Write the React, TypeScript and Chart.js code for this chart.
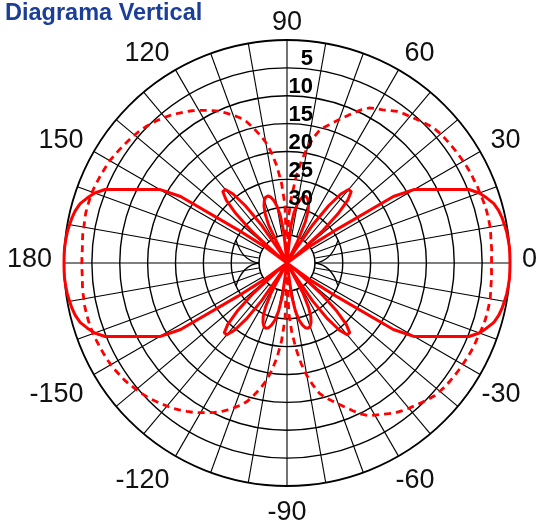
import { useEffect, useRef } from 'react';
import { Chart, registerables } from 'chart.js';

Chart.register(...registerables);

const TITLE = 'Diagrama Vertical';
const STEP = 2;
const ANGLES: number[] = [];
for (let a = 0; a < 360; a += STEP) ANGLES.push(a);
const ANGLE_LABELS = [0, 30, 60, 90, 120, 150, 180, -150, -120, -90, -60, -30];
const RING_LABELS = [5, 10, 15, 20, 25, 30];

// attenuation in dB (0 = outer ring, 40 = centre), one value per 2 degrees, angle 0..358 counter-clockwise from the right
const SOLID_DB = [
  0, 0, 0, 0.1, 0.2, 0.4, 0.6, 0.9, 1.4, 2.3,
  3.3, 4.8, 7.6, 9.9, 11.9, 13.6, 17.5, 29.2, 34.7, 40,
  37.6, 31.6, 27.3, 24.3, 22.8, 22.8, 24.3, 27.3, 31.6, 37.6,
  40, 40, 35.7, 31.9, 29.9, 28.7, 27.9, 27.6, 27.7, 28.3,
  29.2, 30.8, 33.3, 40, 40, 40, 40, 40, 34.4, 31.4,
  29.6, 28.5, 27.8, 27.5, 27.6, 28.1, 29.0, 30.4, 32.6, 40,
  40, 37.6, 31.6, 27.3, 24.3, 22.8, 22.8, 24.3, 27.3, 31.6,
  37.6, 40, 34.7, 29.2, 17.5, 13.6, 11.9, 9.9, 7.6, 4.8,
  3.3, 2.3, 1.4, 0.9, 0.6, 0.4, 0.2, 0.1, 0, 0,
  0,
  0, 0, 0.1, 0.2, 0.4, 0.6, 0.9, 1.4, 2.3,
  3.3, 4.8, 7.6, 9.9, 11.9, 13.6, 17.5, 29.2, 34.7, 40,
  37.6, 31.8, 27.6, 24.7, 23.2, 23.2, 24.7, 27.6, 31.8, 37.6,
  40, 34.0, 31.2, 29.5, 28.5, 27.9, 27.7, 27.9, 28.5, 29.5,
  31.2, 34.0, 40, 40, 40, 40, 40, 40, 40, 34.0,
  31.2, 29.5, 28.5, 27.9, 27.7, 27.9, 28.5, 29.5, 31.2, 34.0,
  40, 37.6, 31.8, 27.6, 24.7, 23.2, 23.2, 24.7, 27.6, 31.8,
  37.6, 40, 34.7, 29.2, 17.5, 13.6, 11.9, 9.9, 7.6, 4.8,
  3.3, 2.3, 1.4, 0.9, 0.6, 0.4, 0.2, 0.1, 0, 0,
];

const DASHED_DB = [
  3.3, 3.3, 3.2, 3.2, 3.1, 3.0, 3.0, 3.0, 3.0, 3.1,
  3.2, 3.2, 3.3, 3.3, 3.4, 3.5, 3.6, 3.7, 3.8, 3.9,
  4.0, 4.2, 4.5, 4.9, 5.3, 5.7, 6.0, 6.4, 7.0, 7.6,
  8.0, 8.5, 9.4, 10.5, 11.6, 12.6, 13.6, 14.5, 15.3, 17.0,
  19.0, 21.5, 24.5, 28.0, 31.5, 40, 29.5, 25.5, 22.5, 20.0,
  18.0, 16.5, 15.0, 13.6, 12.6, 11.8, 11.0, 10.2, 9.6, 9.0,
  8.4, 7.8, 7.3, 6.8, 6.3, 5.9, 5.5, 5.1, 4.8, 4.5,
  4.3, 4.1, 3.9, 3.7, 3.5, 3.3, 3.2, 3.1, 3.0, 2.9,
  2.8, 2.8, 2.8, 2.8, 2.9, 3.0, 3.0, 3.1, 3.2, 3.2,
  3.2,
  3.2, 3.2, 3.1, 3.0, 3.0, 2.9, 2.9, 2.9, 2.9,
  3.0, 3.1, 3.2, 3.3, 3.4, 3.5, 3.7, 3.9, 4.1, 4.4,
  4.7, 5.0, 5.3, 5.7, 6.1, 6.5, 6.9, 7.4, 7.9, 8.4,
  9.0, 9.6, 10.2, 10.8, 11.6, 12.4, 13.2, 14.2, 15.6, 17.0,
  18.6, 20.6, 23.0, 26.0, 30.0, 40, 31.0, 27.5, 24.5, 21.8,
  19.5, 17.6, 15.9, 14.9, 14.0, 13.1, 12.1, 11.0, 9.9, 9.0,
  8.5, 8.0, 7.4, 6.8, 6.4, 6.0, 5.6, 5.2, 4.8, 4.4,
  4.2, 4.0, 3.9, 3.8, 3.7, 3.6, 3.5, 3.4, 3.3, 3.3,
  3.2, 3.1, 3.0, 3.0, 3.0, 3.0, 3.1, 3.2, 3.2, 3.3,
];

// radar index 0 is at the top and runs clockwise
const radarAngles = ANGLES.map((_, i) => (((90 - STEP * i) % 360) + 360) % 360);
const radarLabels = radarAngles.map((a) => String(a > 180 ? a - 360 : a));
const toRadar = (s: number[]) => radarAngles.map((a) => s[a / STEP]);

const FONT = '"Liberation Sans", Arial, Helvetica, sans-serif';

const decor = {
  id: 'decor',
  beforeDatasetsDraw(chart: any) {
    const s = chart.scales.r;
    const ctx = chart.ctx as CanvasRenderingContext2D;
    const cx = s.xCenter;
    const cy = s.yCenter;
    const r35 = s.getDistanceFromCenterForValue(35);
    const r30 = s.getDistanceFromCenterForValue(30);
    ctx.save();
    ctx.beginPath();
    ctx.arc(cx, cy, r35, 0, Math.PI * 2);
    ctx.fillStyle = '#fff';
    ctx.fill();
    ctx.lineWidth = 1.3;
    ctx.strokeStyle = '#000';
    ctx.stroke();
    const ang = (24 * Math.PI) / 180;
    for (const sx of [1, -1]) {
      for (const sy of [1, -1]) {
        ctx.beginPath();
        ctx.moveTo(cx + sx * r35, cy);
        ctx.quadraticCurveTo(
          cx + sx * (r35 + 0.6 * (r30 - r35)),
          cy - sy * 2,
          cx + sx * r30 * Math.cos(ang),
          cy - sy * r30 * Math.sin(ang)
        );
        ctx.stroke();
      }
    }
    ctx.restore();
  },
  afterDatasetsDraw(chart: any) {
    const s = chart.scales.r;
    const ctx = chart.ctx as CanvasRenderingContext2D;
    const cx = s.xCenter;
    const cy = s.yCenter;
    ctx.save();
    // ring labels
    ctx.font = `bold 22px ${FONT}`;
    ctx.fillStyle = '#000';
    ctx.textAlign = 'right';
    ctx.textBaseline = 'alphabetic';
    for (const t of RING_LABELS) {
      const yc = cy - s.getDistanceFromCenterForValue(t) - 10.5;
      ctx.fillText(String(t), cx + 26, yc + 8);
    }
    // angle labels
    ctx.font = `27px ${FONT}`;
    ctx.fillStyle = '#111';
    const R = s.drawingArea + 12;
    const H = 19.5;
    const minusW = ctx.measureText('-').width;
    for (const a of ANGLE_LABELS) {
      const t = String(a);
      const rad = (a * Math.PI) / 180;
      const c = Math.cos(rad);
      const sn = Math.sin(rad);
      let x = cx + R * c;
      const ay = cy - R * sn;
      let base: number;
      if (Math.abs(c) < 0.01) {
        ctx.textAlign = 'center';
      } else if (c > 0) {
        ctx.textAlign = 'left';
        if (a < 0) x -= minusW;
      } else {
        ctx.textAlign = 'right';
      }
      if (Math.abs(sn) < 0.01) base = ay - 6 + H / 2;
      else if (sn > 0) base = ay + 2;
      else base = ay + 2 + H;
      ctx.fillText(t, x, base);
    }
    // title
    ctx.font = `bold 23.5px ${FONT}`;
    ctx.fillStyle = '#1b3f99';
    ctx.textAlign = 'left';
    ctx.fillText(TITLE, 5, 20);
    ctx.restore();
  },
};

export default function App() {
  const ref = useRef<HTMLCanvasElement>(null);
  useEffect(() => {
    if (!ref.current) return;
    const chart = new Chart(ref.current, {
      type: 'radar',
      data: {
        labels: radarLabels,
        datasets: [
          {
            label: 'solid',
            data: toRadar(SOLID_DB),
            borderColor: '#ff0000',
            backgroundColor: 'rgba(0,0,0,0)',
            borderWidth: 3,
            borderJoinStyle: 'round',
            pointRadius: 0,
            fill: false,
          },
          {
            label: 'dashed',
            data: toRadar(DASHED_DB),
            borderColor: '#ff0000',
            backgroundColor: 'rgba(0,0,0,0)',
            borderWidth: 2.8,
            borderDash: [7, 5],
            pointRadius: 0,
            fill: false,
          },
        ],
      },
      options: {
        responsive: false,
        animation: false,
        events: [],
        layout: { padding: { left: 64, right: 31, top: 40, bottom: 35 } },
        plugins: {
          legend: { display: false },
          tooltip: { enabled: false },
          title: { display: false },
        },
        scales: {
          r: {
            min: 0,
            max: 40,
            reverse: true,
            ticks: { display: false, stepSize: 5 },
            pointLabels: { display: false },
            grid: {
              circular: true,
              color: '#000',
              lineWidth: (c: any) => (c.tick && c.tick.value === 0 ? 1.8 : 1.4),
            },
            angleLines: {
              display: true,
              color: '#000',
              lineWidth: (c: any) => (c.index % 5 === 0 ? 1.1 : 0),
            },
          },
        },
      } as any,
      plugins: [decor],
    });
    return () => chart.destroy();
  }, []);
  return (
    <div style={{ position: 'absolute', left: 0, top: 0, width: 541, height: 521, background: '#fff' }}>
      <canvas ref={ref} width={541} height={521} style={{ display: 'block', width: 541, height: 521 }} />
    </div>
  );
}
